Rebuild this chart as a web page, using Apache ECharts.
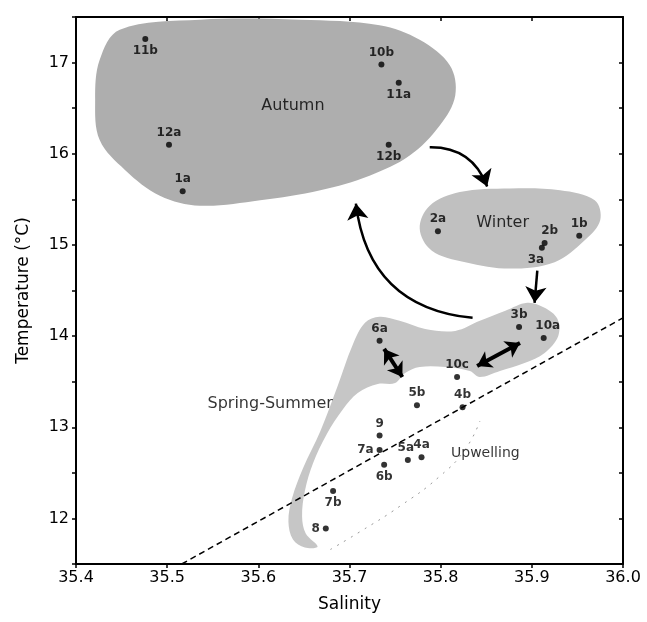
<!DOCTYPE html>
<html>
<head>
<meta charset="utf-8">
<script src="https://cdn.jsdelivr.net/npm/echarts@6.0.0/dist/echarts.min.js"></script>
<style>
  html, body { margin: 0; padding: 0; background: #fff; }
  #chart { width: 647px; height: 622px; }
</style>
</head>
<body>
<div id="chart"></div>
<script>
// --- data (salinity, temperature) ---
const stations = ['11b', '10b', '11a', '12a', '12b', '1a', '2a', '2b', '3a', '1b', '3b', '10a',
    '6a', '10c', '5b', '4b', '9', '7a', '5a', '4a', '6b', '7b', '8'];
const salinity = [35.476, 35.735, 35.754, 35.502, 35.743, 35.517, 35.797, 35.914, 35.911, 35.952, 35.886, 35.913,
    35.733, 35.818, 35.774, 35.824, 35.733, 35.733, 35.764, 35.779, 35.738, 35.682, 35.674];
const temperature = [17.26, 16.98, 16.78, 16.10, 16.10, 15.59, 15.15, 15.02, 14.97, 15.10, 14.10, 13.98,
    13.95, 13.55, 13.24, 13.22, 12.91, 12.75, 12.64, 12.67, 12.59, 12.30, 11.89];
const labelSide = ['bottom', 'top', 'bottom', 'top', 'bottom', 'top', 'top', 'top', 'bottom', 'top', 'top', 'top',
    'top', 'top', 'top', 'top', 'top', 'left', 'top', 'top', 'bottom', 'bottom', 'left'];
const labelShift = { '2b': [5, 0], '3a': [-6, 0], '10a': [4, 0], '5a': [-2, 0] };

const xTicks = [35.4, 35.5, 35.6, 35.7, 35.8, 35.9, 36.0];
const yTicks = [12, 13, 14, 15, 16, 17];

// shaded season envelopes, [salinity, temperature]
const autumnBlob = [[35.448, 17.36], [35.536, 17.47], [35.646, 17.47], [35.733, 17.41], [35.777, 17.25],
    [35.810, 16.97], [35.816, 16.64], [35.799, 16.31], [35.766, 15.98], [35.722, 15.76], [35.668, 15.60],
    [35.602, 15.49], [35.536, 15.43], [35.492, 15.54], [35.454, 15.82], [35.426, 16.15], [35.421, 16.59],
    [35.426, 17.03]];
const winterBlob = [[35.777, 15.18], [35.788, 15.43], [35.821, 15.58], [35.876, 15.62], [35.931, 15.60],
    [35.969, 15.49], [35.975, 15.27], [35.958, 15.05], [35.925, 14.81], [35.876, 14.74], [35.827, 14.81],
    [35.790, 14.94]];
const springBlob = [[35.717, 14.145], [35.703, 13.892], [35.687, 13.452], [35.668, 12.957], [35.649, 12.550],
    [35.637, 12.220], [35.633, 11.967], [35.638, 11.769], [35.651, 11.681], [35.665, 11.692], [35.652, 11.835],
    [35.648, 12.022], [35.651, 12.297], [35.660, 12.605], [35.675, 12.924], [35.693, 13.199], [35.709, 13.375],
    [35.731, 13.474], [35.750, 13.485], [35.761, 13.595], [35.777, 13.661], [35.805, 13.661], [35.832, 13.617],
    [35.843, 13.551], [35.865, 13.617], [35.892, 13.705], [35.914, 13.815], [35.929, 14.002], [35.928, 14.189],
    [35.914, 14.310], [35.895, 14.365], [35.871, 14.277], [35.843, 14.167], [35.816, 14.057], [35.783, 14.079],
    [35.755, 14.167], [35.733, 14.211]];
const upwellingEdge = [[35.679, 11.659], [35.712, 11.857], [35.755, 12.132], [35.799, 12.462], [35.827, 12.759],
    [35.843, 13.067]];

// dashed reference line
const refLine = [[35.516, 11.5], [36.0, 14.2]];

// season transition arrows
const cycleArrows = [
    { from: [35.788, 16.070], to: [35.851, 15.641], bend: 0.35 },
    { from: [35.835, 14.200], to: [35.707, 15.454], bend: 0.4 }
];
const straightArrows = [[[35.906, 14.717], [35.903, 14.365]]];
const doubleArrows = [
    [[35.738, 13.859], [35.758, 13.551]],
    [[35.840, 13.672], [35.887, 13.925]]
];

const regionNames = ['Autumn', 'Winter', 'Spring-Summer', 'Upwelling'];
const regionPos = [[35.638, 16.53], [35.868, 15.245], [35.613, 13.254], [35.849, 12.715]];
const regionFont = [16, 16, 16, 14];

const FONT = '"DejaVu Sans", sans-serif';

function blobSeries(points, fill) {
    return {
        type: 'custom',
        coordinateSystem: 'cartesian2d',
        silent: true,
        z: 1,
        data: [0],
        renderItem: function (params, api) {
            return {
                type: 'polygon',
                shape: { points: points.map(p => api.coord(p)), smooth: 0.35 },
                style: { fill: fill, stroke: null }
            };
        }
    };
}

const chart = echarts.init(document.getElementById('chart'), null, { renderer: 'canvas' });

const axisCommon = {
    axisLine: { lineStyle: { color: '#000', width: 2 } },
    splitLine: { show: false }
};

chart.setOption({
    animation: false,
    backgroundColor: '#fff',
    grid: { left: 76, right: 24, top: 17, bottom: 58 },
    xAxis: [
        Object.assign({
            type: 'value', min: 35.4, max: 36.0, interval: 0.1, position: 'bottom',
            name: 'Salinity', nameLocation: 'middle', nameGap: 32,
            nameTextStyle: { fontFamily: FONT, fontSize: 17, color: '#000' },
            axisTick: { length: 4, lineStyle: { color: '#000', width: 1.5 } },
            axisLabel: {
                fontFamily: FONT, fontSize: 16, color: '#000', margin: 6,
                formatter: v => xTicks.some(t => Math.abs(t - v) < 1e-6) ? v.toFixed(1) : ''
            }
        }, axisCommon),
        Object.assign({
            type: 'value', min: 35.4, max: 36.0, interval: 0.1, position: 'top',
            axisTick: { inside: true, length: 4, lineStyle: { color: '#000', width: 1.5 } },
            axisLabel: { show: false }
        }, axisCommon)
    ],
    yAxis: [
        Object.assign({
            type: 'value', min: 11.5, max: 17.5, interval: 0.5, position: 'left',
            name: 'Temperature (\u00b0C)', nameLocation: 'middle', nameGap: 44, nameRotate: 90,
            nameTextStyle: { fontFamily: FONT, fontSize: 17, color: '#000' },
            axisTick: { length: 4, lineStyle: { color: '#000', width: 1.5 } },
            axisLabel: {
                fontFamily: FONT, fontSize: 16, color: '#000', margin: 7,
                formatter: v => yTicks.indexOf(v) >= 0 ? String(v) : ''
            }
        }, axisCommon),
        Object.assign({
            type: 'value', min: 11.5, max: 17.5, interval: 0.5, position: 'right',
            axisTick: { inside: true, length: 4, lineStyle: { color: '#000', width: 1.5 } },
            axisLabel: { show: false }
        }, axisCommon)
    ],
    series: [
        blobSeries(autumnBlob, '#aeaeae'),
        blobSeries(winterBlob, '#c0c0c0'),
        blobSeries(springBlob, '#c6c6c6'),
        {
            type: 'line', data: upwellingEdge, smooth: true, symbol: 'none', silent: true, z: 2,
            lineStyle: { color: '#999', width: 1, type: [2, 6] }
        },
        {
            type: 'line', data: refLine, symbol: 'none', silent: true, z: 3,
            lineStyle: { color: '#000', width: 1.5, type: [6, 4] }
        },
        {
            type: 'lines', coordinateSystem: 'cartesian2d', silent: true, z: 4,
            symbol: ['none', 'arrow'], symbolSize: 16,
            lineStyle: { color: '#000', width: 2.5, opacity: 1 },
            data: cycleArrows.map(a => ({ coords: [a.from, a.to], lineStyle: { curveness: a.bend } }))
        },
        {
            type: 'lines', coordinateSystem: 'cartesian2d', silent: true, z: 4,
            symbol: ['none', 'arrow'], symbolSize: 16,
            lineStyle: { color: '#000', width: 2.5, opacity: 1 },
            data: straightArrows.map(c => ({ coords: c }))
        },
        {
            type: 'lines', coordinateSystem: 'cartesian2d', silent: true, z: 4,
            symbol: ['arrow', 'arrow'], symbolSize: 14,
            lineStyle: { color: '#000', width: 4, opacity: 1 },
            data: doubleArrows.map(c => ({ coords: c }))
        },
        {
            type: 'scatter', z: 5, symbolSize: 6,
            itemStyle: { color: '#000' },
            data: stations.map((n, i) => ({
                value: [salinity[i], temperature[i]], name: n,
                label: {
                    show: true, position: labelSide[i], formatter: n, distance: 3,
                    offset: labelShift[n] || [0, 0],
                    fontFamily: FONT, fontSize: 12, fontWeight: 'bold', color: '#000'
                }
            }))
        },
        {
            type: 'scatter', z: 6, symbolSize: 0, silent: true,
            data: regionNames.map((n, i) => ({
                value: regionPos[i],
                label: {
                    show: true, position: 'inside', formatter: n,
                    fontFamily: FONT, fontSize: regionFont[i], color: '#000'
                }
            }))
        }
    ]
});
</script>
</body>
</html>
